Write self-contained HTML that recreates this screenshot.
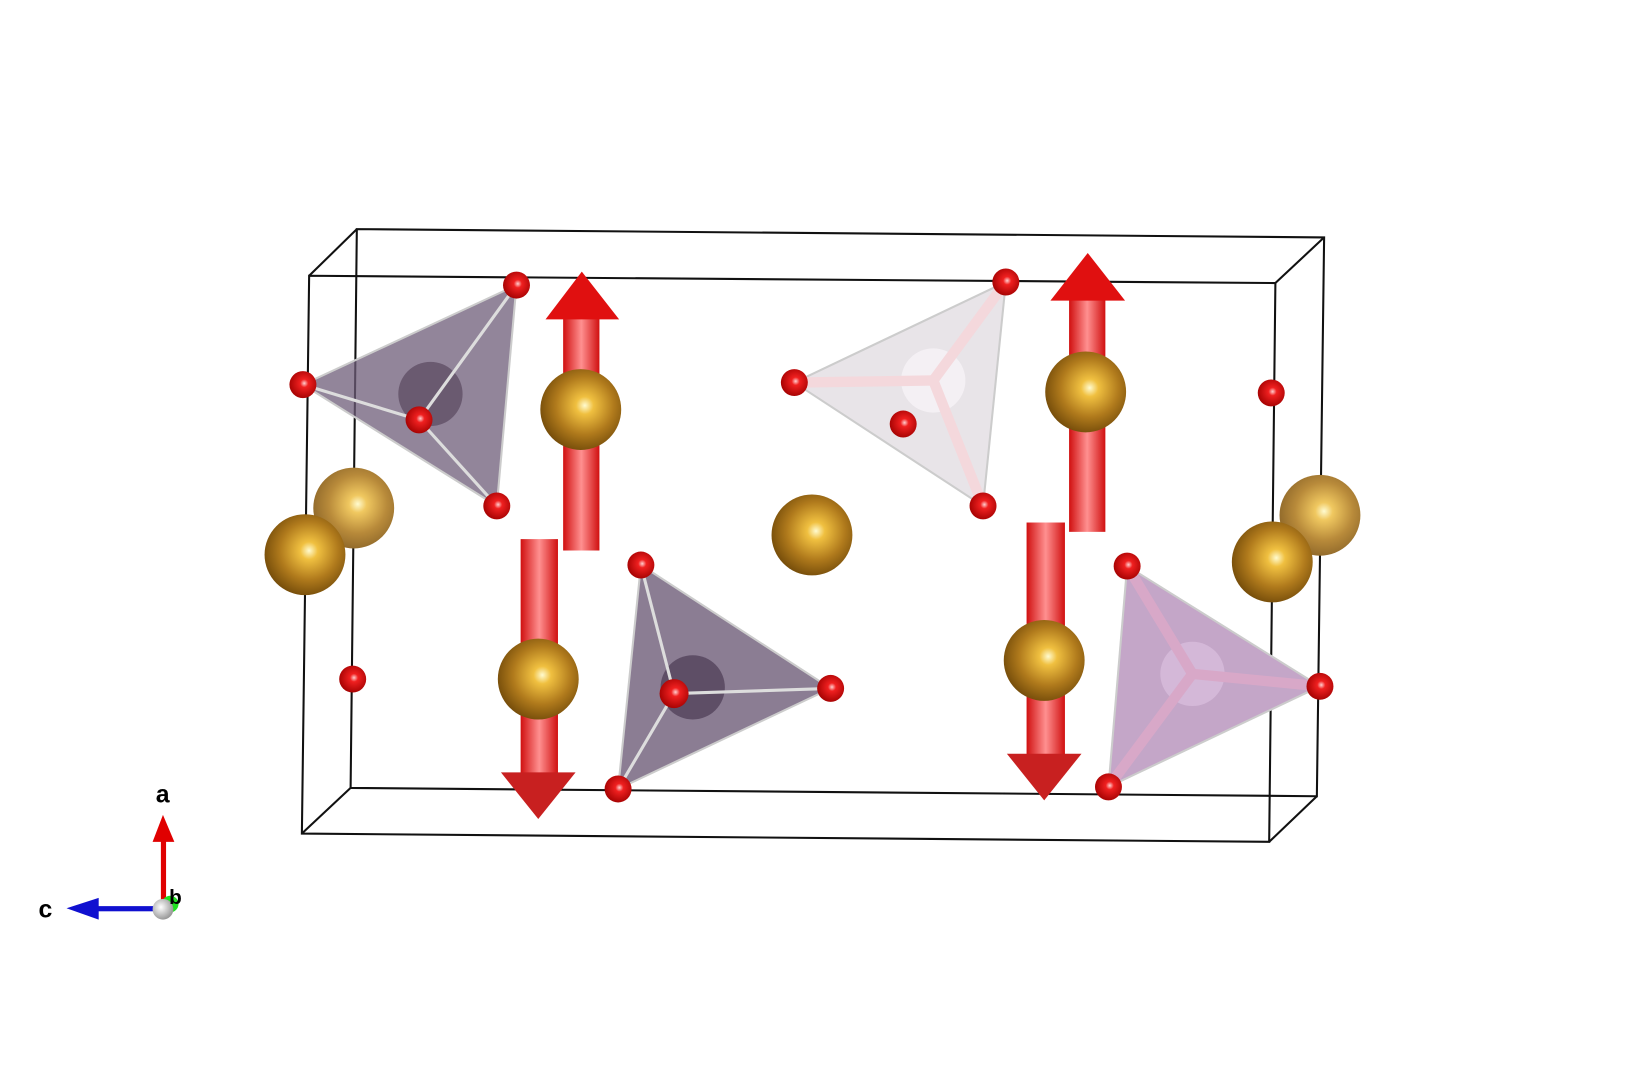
<!DOCTYPE html>
<html><head><meta charset="utf-8"><style>html,body{margin:0;padding:0;background:#fff}svg{display:block}</style></head>
<body>
<svg width="1626" height="1072" viewBox="0 0 1568 1034" xmlns="http://www.w3.org/2000/svg">
<defs>
<radialGradient id="gold" cx="0.55" cy="0.45" r="0.6"><stop offset="0" stop-color="#fffbd0"/><stop offset="0.18" stop-color="#f0c040"/><stop offset="0.6" stop-color="#b07a1c"/><stop offset="1" stop-color="#6e4708"/></radialGradient>
<radialGradient id="goldL" cx="0.55" cy="0.45" r="0.6"><stop offset="0" stop-color="#fffbd0"/><stop offset="0.18" stop-color="#f0c860"/><stop offset="0.6" stop-color="#b88a3a"/><stop offset="1" stop-color="#8a6428"/></radialGradient>
<radialGradient id="ox" cx="0.55" cy="0.45" r="0.6"><stop offset="0" stop-color="#ffd0d0"/><stop offset="0.25" stop-color="#f02020"/><stop offset="1" stop-color="#a00000"/></radialGradient>
<linearGradient id="shaft" x1="0" x2="1"><stop offset="0" stop-color="#d01010"/><stop offset="0.5" stop-color="#ff9090"/><stop offset="1" stop-color="#d01010"/></linearGradient>
<radialGradient id="grey" cx="0.4" cy="0.4" r="0.6"><stop offset="0" stop-color="#fff"/><stop offset="1" stop-color="#999"/></radialGradient>
</defs>
<g stroke="#111" stroke-width="2" fill="none">
<polygon points="344,221 1277,229 1270,768 338,760"/>
<polygon points="298,266 1230,273 1224,812 291,804"/>
<line x1="298" y1="266" x2="344" y2="221"/><line x1="1230" y1="273" x2="1277" y2="229"/>
<line x1="1224" y1="812" x2="1270" y2="768"/><line x1="291" y1="804" x2="338" y2="760"/>
</g>
<polygon points="498,275 292,371 479,488" fill="#6e5c78" fill-opacity="0.75" stroke="#ccc" stroke-width="2"/>
<circle cx="415" cy="380" r="31" fill="#6a5a70"/>
<g stroke="#ddd" stroke-width="3"><line x1="404" y1="405" x2="498" y2="275"/><line x1="404" y1="405" x2="292" y2="371"/><line x1="404" y1="405" x2="479" y2="488"/></g>
<polygon points="970,272 766,369 948,488" fill="#e8e4e8" stroke="#ccc" stroke-width="2"/>
<circle cx="900" cy="367" r="31" fill="#f4f0f4"/>
<g stroke="#f4d8dc" stroke-width="10"><line x1="900" y1="367" x2="970" y2="272"/><line x1="900" y1="367" x2="766" y2="369"/><line x1="900" y1="367" x2="948" y2="488"/></g>
<polygon points="618,545 801,664 596,761" fill="#6e5c78" fill-opacity="0.8" stroke="#ccc" stroke-width="2"/>
<circle cx="668" cy="663" r="31" fill="#5e4e66"/>
<g stroke="#ddd" stroke-width="3"><line x1="650" y1="669" x2="618" y2="545"/><line x1="650" y1="669" x2="801" y2="664"/><line x1="650" y1="669" x2="596" y2="761"/></g>
<polygon points="1087,546 1273,662 1069,759" fill="#c4a6c8" stroke="#ccc" stroke-width="2"/>
<circle cx="1150" cy="650" r="31" fill="#d4b8d8"/>
<g stroke="#d8a8c8" stroke-width="10"><line x1="1150" y1="650" x2="1087" y2="546"/><line x1="1150" y1="650" x2="1273" y2="662"/><line x1="1150" y1="650" x2="1069" y2="759"/></g>
<circle cx="341" cy="490" r="39" fill="url(#goldL)"/>
<circle cx="294" cy="535" r="39" fill="url(#gold)"/>
<circle cx="783" cy="516" r="39" fill="url(#gold)"/>
<circle cx="1273" cy="497" r="39" fill="url(#goldL)"/>
<circle cx="1227" cy="542" r="39" fill="url(#gold)"/>
<rect x="543" y="306" width="35" height="225" fill="url(#shaft)"/>
<polygon points="561,262 526,308 597,308" fill="#e01010"/>
<circle cx="560" cy="395" r="39" fill="url(#gold)"/>
<rect x="502" y="520" width="36" height="227" fill="url(#shaft)"/>
<polygon points="483,745 555,745 519,790" fill="#c82020"/>
<circle cx="519" cy="655" r="39" fill="url(#gold)"/>
<rect x="1031" y="288" width="35" height="225" fill="url(#shaft)"/>
<polygon points="1049,244 1013,290 1085,290" fill="#e01010"/>
<circle cx="1047" cy="378" r="39" fill="url(#gold)"/>
<rect x="990" y="504" width="37" height="225" fill="url(#shaft)"/>
<polygon points="971,727 1043,727 1007,772" fill="#c82020"/>
<circle cx="1007" cy="637" r="39" fill="url(#gold)"/>
<g fill="url(#ox)">
<circle cx="498" cy="275" r="13"/><circle cx="292" cy="371" r="13"/><circle cx="404" cy="405" r="13"/><circle cx="479" cy="488" r="13"/>
<circle cx="340" cy="655" r="13"/><circle cx="618" cy="545" r="13"/><circle cx="650" cy="669" r="14"/><circle cx="801" cy="664" r="13"/><circle cx="596" cy="761" r="13"/>
<circle cx="970" cy="272" r="13"/><circle cx="766" cy="369" r="13"/><circle cx="871" cy="409" r="13"/><circle cx="948" cy="488" r="13"/>
<circle cx="1226" cy="379" r="13"/><circle cx="1087" cy="546" r="13"/><circle cx="1273" cy="662" r="13"/><circle cx="1069" cy="759" r="13"/>
</g>
<rect x="155" y="810" width="5" height="66" fill="#e00000"/>
<polygon points="157,786 147,812 168,812" fill="#e00000"/>
<rect x="90" y="874" width="67" height="5" fill="#1010d0"/>
<polygon points="64,876 95,866 95,887" fill="#1010d0"/>
<circle cx="164" cy="872" r="8" fill="#20e020"/>
<circle cx="157" cy="877" r="10" fill="url(#grey)"/>
<g font-family="Liberation Sans, sans-serif" font-weight="bold" font-size="24" fill="#000">
<text x="150" y="774">a</text><text x="37" y="885">c</text><text x="163" y="872" font-size="20">b</text>
</g>
</svg>
</body></html>
